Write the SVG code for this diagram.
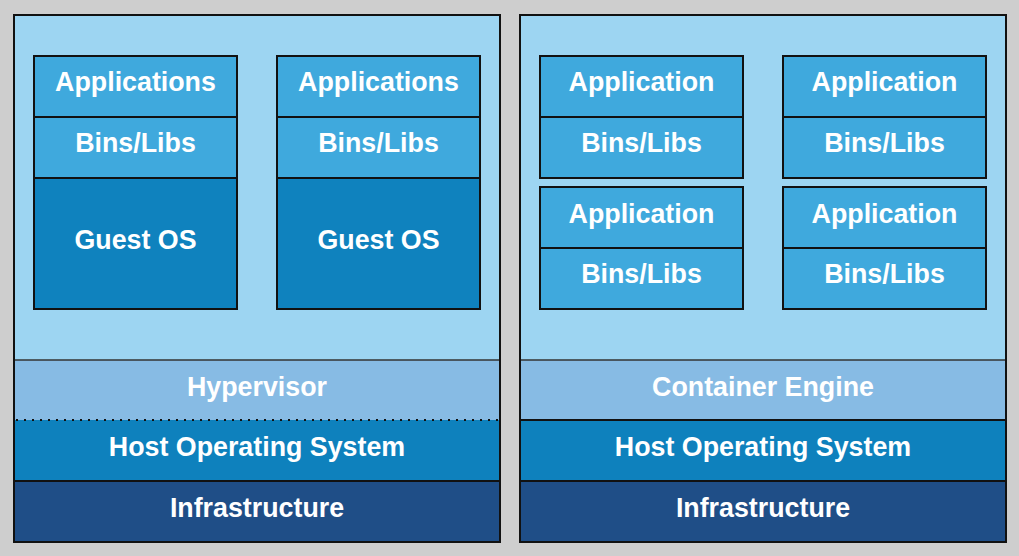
<svg xmlns="http://www.w3.org/2000/svg" width="1019" height="556" viewBox="0 0 1019 556">
<style>
.t{font-family:"Liberation Sans",Arial,sans-serif;font-weight:bold;font-size:26.8px;fill:#fff;text-anchor:middle}
.b{stroke:#111;stroke-width:2}
.app{fill:#3fa9dd}
.gos{fill:#0f82be}
.lt{fill:#9dd5f2}
.hyp{fill:#87bbe4}
.host{fill:#0e81bd}
.inf{fill:#1f4e87}
</style>
<rect width="1019" height="556" fill="#cecece"/>
<g id="vm-side">
<rect class="lt" x="14" y="15" width="486" height="345"/>
<rect class="hyp" x="14" y="360" width="486" height="60"/>
<rect class="host" x="14" y="420" width="486" height="61"/>
<rect class="inf" x="14" y="481" width="486" height="61"/>
<line x1="14" y1="360" x2="500" y2="360" stroke="#333" stroke-width="1.5"/>
<line x1="16" y1="420" x2="500" y2="420" stroke="#111" stroke-width="2" stroke-dasharray="2 6"/>
<line x1="14" y1="481" x2="500" y2="481" stroke="#111" stroke-width="2"/>
<rect x="14" y="15" width="486" height="527" fill="none" class="b"/>
<text class="t" x="257" y="396">Hypervisor</text>
<text class="t" x="257" y="456">Host Operating System</text>
<text class="t" x="257" y="517">Infrastructure</text>
</g>
<g id="vm1">
<rect class="app b" x="34" y="56" width="203" height="61"/>
<rect class="app b" x="34" y="117" width="203" height="61"/>
<rect class="gos b" x="34" y="178" width="203" height="131"/>
<text class="t" x="135.5" y="91">Applications</text>
<text class="t" x="135.5" y="152">Bins/Libs</text>
<text class="t" x="135.5" y="249">Guest OS</text>
</g>
<g id="vm2">
<rect class="app b" x="277" y="56" width="203" height="61"/>
<rect class="app b" x="277" y="117" width="203" height="61"/>
<rect class="gos b" x="277" y="178" width="203" height="131"/>
<text class="t" x="378.5" y="91">Applications</text>
<text class="t" x="378.5" y="152">Bins/Libs</text>
<text class="t" x="378.5" y="249">Guest OS</text>
</g>
<g id="container-side">
<rect class="lt" x="520" y="15" width="486" height="345"/>
<rect class="hyp" x="520" y="360" width="486" height="60"/>
<rect class="host" x="520" y="420" width="486" height="61"/>
<rect class="inf" x="520" y="481" width="486" height="61"/>
<line x1="520" y1="360" x2="1006" y2="360" stroke="#333" stroke-width="1.5"/>
<line x1="520" y1="420" x2="1006" y2="420" stroke="#111" stroke-width="2"/>
<line x1="520" y1="481" x2="1006" y2="481" stroke="#111" stroke-width="2"/>
<rect x="520" y="15" width="486" height="527" fill="none" class="b"/>
<text class="t" x="763" y="396">Container Engine</text>
<text class="t" x="763" y="456">Host Operating System</text>
<text class="t" x="763" y="517">Infrastructure</text>
</g>
<g id="c1">
<rect class="app b" x="540" y="56" width="203" height="61"/>
<rect class="app b" x="540" y="117" width="203" height="61"/>
<text class="t" x="641.5" y="91">Application</text>
<text class="t" x="641.5" y="152">Bins/Libs</text>
</g>
<g id="c2">
<rect class="app b" x="783" y="56" width="203" height="61"/>
<rect class="app b" x="783" y="117" width="203" height="61"/>
<text class="t" x="884.5" y="91">Application</text>
<text class="t" x="884.5" y="152">Bins/Libs</text>
</g>
<g id="c3">
<rect class="app b" x="540" y="187" width="203" height="61"/>
<rect class="app b" x="540" y="248" width="203" height="61"/>
<text class="t" x="641.5" y="223">Application</text>
<text class="t" x="641.5" y="283">Bins/Libs</text>
</g>
<g id="c4">
<rect class="app b" x="783" y="187" width="203" height="61"/>
<rect class="app b" x="783" y="248" width="203" height="61"/>
<text class="t" x="884.5" y="223">Application</text>
<text class="t" x="884.5" y="283">Bins/Libs</text>
</g>
<g id="connectors"/>
</svg>
